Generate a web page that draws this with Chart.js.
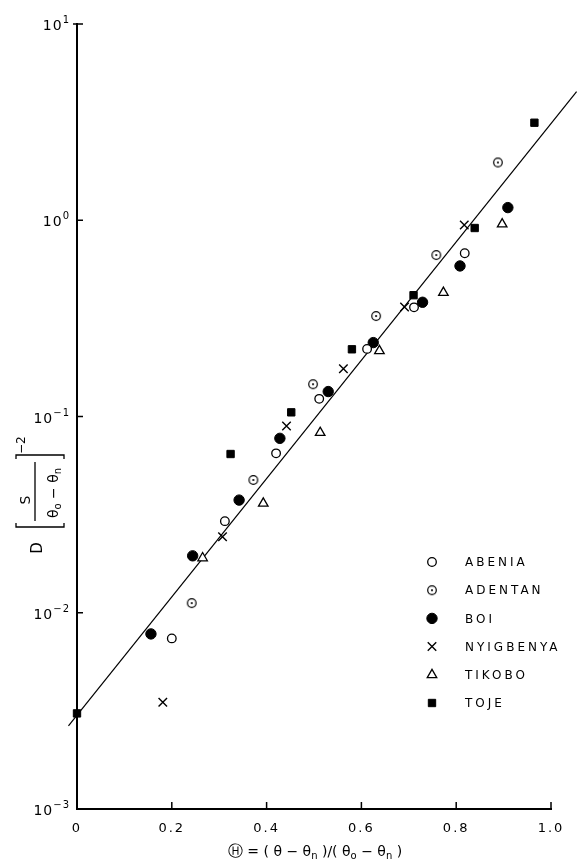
<!DOCTYPE html>
<html>
<head>
<meta charset="utf-8">
<script src="https://cdn.jsdelivr.net/npm/chart.js@4.4.1/dist/chart.umd.min.js"></script>
<style>
  html, body { margin: 0; padding: 0; background: #fff; }
</style>
</head>
<body>
<canvas id="myChart" width="578" height="866"></canvas>
<script>
const sites = ['ABENIA', 'ADENTAN', 'BOI', 'NYIGBENYA', 'TIKOBO', 'TOJE'];

const abeniaX = [0.200, 0.312, 0.420, 0.511, 0.612, 0.711, 0.818];
const abeniaY = [0.0074, 0.0293, 0.0649, 0.123, 0.221, 0.360, 0.679];

const adentanX = [0.242, 0.372, 0.498, 0.631, 0.758, 0.888];
const adentanY = [0.0112, 0.0475, 0.146, 0.325, 0.665, 1.97];

const boiX = [0.156, 0.244, 0.342, 0.428, 0.530, 0.625, 0.729, 0.808, 0.909];
const boiY = [0.0078, 0.0195, 0.0375, 0.0774, 0.134, 0.238, 0.382, 0.585, 1.16];

const nyigbenyaX = [0.181, 0.307, 0.442, 0.562, 0.691, 0.817];
const nyigbenyaY = [0.0035, 0.0244, 0.0894, 0.175, 0.361, 0.946];

const tikoboX = [0.265, 0.393, 0.513, 0.638, 0.773, 0.897];
const tikoboY = [0.0190, 0.0361, 0.0827, 0.216, 0.428, 0.955];

const tojeX = [0.0, 0.324, 0.452, 0.580, 0.710, 0.839, 0.965];
const tojeY = [0.00307, 0.0644, 0.105, 0.220, 0.415, 0.913, 3.14];

// fitted straight line (ends)
const fitX = [-0.018, 1.054];
const fitY = [0.00265, 4.52];

const xTicks = [0, 0.2, 0.4, 0.6, 0.8, 1.0];
const yTicks = [0.001, 0.01, 0.1, 1, 10];
const yTickExponents = ['-3', '-2', '-1', '0', '1'];

const toPoints = (xs, ys) => xs.map((x, i) => ({ x: x, y: ys[i] }));

// circle with a dot in the middle, for ADENTAN
const dotCircle = () => {
  const c = document.createElement('canvas');
  c.width = 12;
  c.height = 12;
  const g = c.getContext('2d');
  g.strokeStyle = '#000';
  g.lineWidth = 1.2;
  g.beginPath();
  g.arc(6, 6, 4.3, 0, Math.PI * 2);
  g.stroke();
  g.fillStyle = '#000';
  g.beginPath();
  g.arc(6, 6, 1.1, 0, Math.PI * 2);
  g.fill();
  return c;
}

const markerStyles = [
  { pointStyle: 'circle', radius: 4.3, borderWidth: 1.3, fill: '#fff' },
  { pointStyle: dotCircle(), radius: 5, borderWidth: 1.2, fill: '#fff' },
  { pointStyle: 'circle', radius: 5.2, borderWidth: 1, fill: '#000' },
  { pointStyle: 'crossRot', radius: 6, borderWidth: 1.4, fill: '#000' },
  { pointStyle: 'triangle', radius: 5.5, borderWidth: 1.3, fill: '#fff' },
  { pointStyle: 'rect', radius: 5.2, borderWidth: 1, fill: '#000' }
];

const seriesData = [
  toPoints(abeniaX, abeniaY),
  toPoints(adentanX, adentanY),
  toPoints(boiX, boiY),
  toPoints(nyigbenyaX, nyigbenyaY),
  toPoints(tikoboX, tikoboY),
  toPoints(tojeX, tojeY)
];

const datasets = sites.map((name, i) => ({
  label: name,
  data: seriesData[i],
  pointStyle: markerStyles[i].pointStyle,
  pointRadius: markerStyles[i].radius,
  pointHoverRadius: markerStyles[i].radius,
  pointBorderWidth: markerStyles[i].borderWidth,
  pointBackgroundColor: markerStyles[i].fill,
  pointBorderColor: '#000',
  showLine: false,
  clip: false,
  order: 0
}));

datasets.push({
  label: 'fit',
  data: toPoints(fitX, fitY),
  showLine: true,
  borderColor: '#000',
  borderWidth: 1.2,
  pointRadius: 0,
  clip: false,
  order: 10
});

// draw a run of text pieces, some raised or lowered
const drawRuns = (ctx, runs, x, y, align) => {
  let total = 0;
  runs.forEach(r => {
    ctx.font = r[1] + 'px "DejaVu Sans"';
    total += ctx.measureText(r[0]).width;
  });
  let pos = x;
  if (align === 'center') pos = x - total / 2;
  if (align === 'right') pos = x - total;
  runs.forEach(r => {
    ctx.font = r[1] + 'px "DejaVu Sans"';
    ctx.fillText(r[0], pos, y + r[2]);
    pos += ctx.measureText(r[0]).width;
  });
}

const decorPlugin = {
  id: 'decor',
  beforeDraw: (chart) => {
    chart.ctx.letterSpacing = '2px';
  },
  afterDraw: (chart) => {
    const ctx = chart.ctx;
    const xs = chart.scales.x;
    const ys = chart.scales.y;
    const area = chart.chartArea;
    ctx.save();
    ctx.letterSpacing = '0px';
    ctx.strokeStyle = '#000';
    ctx.fillStyle = '#000';

    // inward tick marks
    ctx.lineWidth = 1.5;
    ctx.beginPath();
    xTicks.slice(1).forEach(v => {
      const px = xs.getPixelForValue(v);
      ctx.moveTo(px, area.bottom);
      ctx.lineTo(px, area.bottom - 7);
    });
    yTicks.slice(1).forEach(v => {
      const py = ys.getPixelForValue(v);
      ctx.moveTo(area.left - (v === 10 ? 4 : 0), py);
      ctx.lineTo(area.left + 6, py);
    });
    ctx.stroke();

    // y tick labels: 10 with a raised power
    ctx.textAlign = 'left';
    ctx.textBaseline = 'alphabetic';
    ctx.letterSpacing = '1px';
    yTicks.forEach((v, i) => {
      const py = ys.getPixelForValue(v);
      drawRuns(ctx, [['10', 14, 0], [yTickExponents[i].replace('-', '−'), 10, -7]], 70, py + 6, 'right');
    });
    ctx.letterSpacing = '0px';

    // legend
    const lx = 432;
    const ty = 562;
    sites.forEach((name, i) => {
      const y = ty + i * 28.2;
      const m = markerStyles[i];
      ctx.lineWidth = m.borderWidth;
      ctx.fillStyle = m.fill;
      ctx.strokeStyle = '#000';
      Chart.helpers.drawPoint(ctx, {
        pointStyle: m.pointStyle, radius: m.radius, borderWidth: m.borderWidth, rotation: 0
      }, lx, y);
      ctx.fillStyle = '#000';
      ctx.letterSpacing = '3px';
      ctx.font = '12px "DejaVu Sans"';
      ctx.textAlign = 'left';
      ctx.textBaseline = 'middle';
      ctx.fillText(name, 465, y + 1);
      ctx.letterSpacing = '0px';
    });

    // x axis title
    ctx.textBaseline = 'alphabetic';
    ctx.textAlign = 'left';
    drawRuns(ctx, [
      ['Ⓗ', 15, 0], [' = ( θ − θ', 14, 0], ['n', 10, 3], [' )/( θ', 14, 0],
      ['o', 10, 3], [' − θ', 14, 0], ['n', 10, 3], [' )', 14, 0]
    ], 315, 856, 'center');

    // y axis title, rotated; local (u, v) = (-screenY, screenX)
    ctx.save();
    ctx.rotate(-Math.PI / 2);
    ctx.textAlign = 'center';
    ctx.textBaseline = 'middle';
    ctx.font = '15px "DejaVu Sans"';
    ctx.fillText('D', -548, 38);
    ctx.lineWidth = 1.3;
    ctx.beginPath();
    ctx.moveTo(-523, 16); ctx.lineTo(-527, 16); ctx.lineTo(-527, 64); ctx.lineTo(-523, 64);
    ctx.moveTo(-459, 16); ctx.lineTo(-455, 16); ctx.lineTo(-455, 64); ctx.lineTo(-459, 64);
    ctx.moveTo(-521, 35); ctx.lineTo(-462, 35);
    ctx.stroke();
    ctx.font = '14px "DejaVu Sans"';
    ctx.fillText('S', -500, 26);
    ctx.textAlign = 'left';
    ctx.textBaseline = 'alphabetic';
    drawRuns(ctx, [['θ', 14, 0], ['o', 10, 3], [' − ', 14, 0], ['θ', 14, 0], ['n', 10, 3]], -493, 58, 'center');
    ctx.textBaseline = 'middle';
    drawRuns(ctx, [['−2', 12, 0]], -454, 22, 'left');
    ctx.restore();

    ctx.restore();
    chart.ctx.letterSpacing = '0px';
  }
};

const config = {
  type: 'scatter',
  data: { datasets: datasets },
  options: {
    responsive: false,
    animation: false,
    events: [],
    layout: { padding: { top: 24, right: 27, left: 0, bottom: 0 } },
    plugins: {
      legend: { display: false },
      tooltip: { enabled: false }
    },
    scales: {
      x: {
        type: 'linear',
        min: 0,
        max: 1.0,
        afterFit: (s) => { s.height = 57; },
        afterBuildTicks: (s) => { s.ticks = xTicks.map(v => ({ value: v })); },
        grid: { display: false, drawTicks: false },
        border: { display: true, color: '#000', width: 2 },
        ticks: {
          color: '#000',
          padding: 12,
          font: { family: 'DejaVu Sans', size: 13 },
          callback: (v) => (v === 0 ? '0' : v.toFixed(1))
        }
      },
      y: {
        type: 'logarithmic',
        min: 0.001,
        max: 10,
        afterFit: (s) => { s.width = 77; },
        afterBuildTicks: (s) => { s.ticks = yTicks.map(v => ({ value: v })); },
        grid: { display: false, drawTicks: false },
        border: { display: true, color: '#000', width: 2 },
        ticks: { display: false }
      }
    }
  },
  plugins: [decorPlugin]
};

const ctx = document.getElementById('myChart');

new Chart(ctx, config);
</script>
</body>
</html>
